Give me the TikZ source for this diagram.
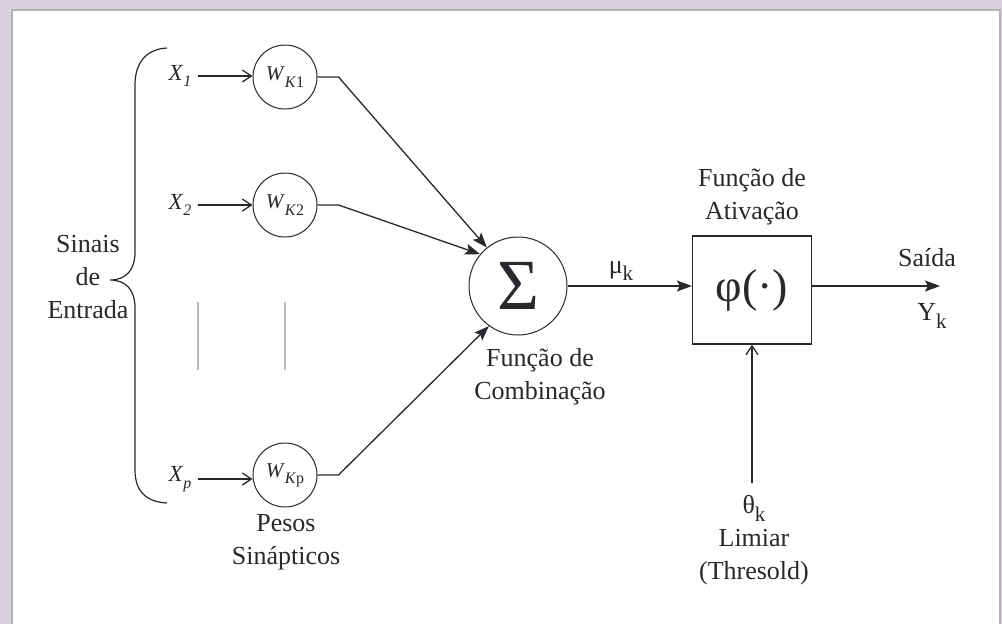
\documentclass[tikz,border=0pt]{standalone}
\usepackage{fontspec}
\setmainfont{Liberation Serif}
\usetikzlibrary{arrows.meta}
\definecolor{pagebg}{RGB}{216,210,223}
\definecolor{paneledge}{RGB}{180,180,184}
\definecolor{ink}{RGB}{40,40,45}
\newcommand{\lowsub}[1]{\raisebox{-0.3em}{\fontsize{16}{16}\selectfont #1}}
\newcommand{\biglowsub}[1]{\raisebox{-0.3em}{\fontsize{21}{21}\selectfont #1}}
\begin{document}
\begin{tikzpicture}[x=1pt,y=-1pt,
  wnode/.style={circle, draw=ink, line width=1pt, minimum size=64pt, inner sep=0pt,
    font=\fontsize{21}{21}\selectfont, text=ink},
  xlbl/.style={inner sep=2pt, font=\fontsize{23}{23}\selectfont, text=ink},
  lbl/.style={align=center, inner sep=0pt, font=\fontsize{26}{33}\selectfont, text=ink},
  conn/.style={draw=ink, line width=1.3pt},
  openhead/.style={-{Straight Barb[length=9pt,width=12pt]}},
  fillhead/.style={-{Stealth[length=15pt,width=11pt,inset=3pt]}}]
\useasboundingbox (0,0) rectangle (1002,624);
% page and white panel
\fill[pagebg] (0,0) rectangle (1002,624);
\fill[white] (12,10) rectangle (1000,626);
\draw[paneledge, line width=2pt] (12,626) -- (12,10) -- (1000,10) -- (1000,626);

% input brace
\draw[conn, line width=1.2pt] (167,48) .. controls (147,49) and (135,62) .. (135,85)
  -- (135,252) .. controls (135,270) and (126,280) .. (110,280)
  .. controls (126,280) and (135,290) .. (135,308)
  -- (135,470) .. controls (135,492) and (147,502) .. (167,503);
\node[lbl] (sinais) at (88,277) {Sinais\\de\\Entrada};

% inputs and synaptic weights
\node[xlbl] (x1) at (180,76) {\textit{X}\lowsub{\textit{1}}};
\node[xlbl] (x2) at (180,205) {\textit{X}\lowsub{\textit{2}}};
\node[xlbl] (xp) at (180,479) {\textit{X}\lowsub{\textit{p}}};
\node[wnode] (w1) at (285,77) {\textit{W}\lowsub{\textit{K}1}};
\node[wnode] (w2) at (285,205) {\textit{W}\lowsub{\textit{K}2}};
\node[wnode] (wp) at (285,475) {\textit{W}\lowsub{\textit{K}p}};
\draw[conn, openhead, shorten <=4pt] (x1.east) -- (x1.east -| w1.west);
\draw[conn, openhead, shorten <=4pt] (x2.east) -- (x2.east -| w2.west);
\draw[conn, openhead, shorten <=4pt] (xp.east) -- (xp.east -| wp.west);
\node[lbl] (pesos) at (286,542) {Pesos\\Sinápticos};

% omitted inputs
\draw[gray!55, line width=1.3pt] (198,302) -- (198,370);
\draw[gray!55, line width=1.3pt] (285,302) -- (285,370);

% summing junction
\node[circle, draw=ink, line width=1pt, minimum size=98pt, inner sep=0pt,
  font=\fontsize{72}{72}\selectfont, text=ink] (sig) at (518,286) {Σ};
\node[lbl] (comb) at (540,377) {Função de\\Combinação};
\draw[conn, fillhead] (w1.east) -- ++(21,0) -- (sig.129);
\draw[conn, fillhead] (w2.east) -- ++(21,0) -- (sig.140);
\draw[conn, fillhead] (wp.east) -- ++(21,0) -- (sig.234);

% activation function
\node[draw=ink, line width=1.3pt, minimum width=119pt, minimum height=108pt, inner sep=0pt,
  font=\fontsize{46}{46}\selectfont, text=ink] (box) at (752,290) {φ(·)};
\node[lbl] (ativ) at (752,197) {Função de\\Ativação};
\draw[conn, fillhead] (sig.east) -- (sig.east -| box.west);
\node[lbl] (mu) at (621,271) {μ\biglowsub{k}};

% output
\coordinate (out) at (940,286);
\draw[conn, fillhead] (out -| box.east) -- (out);
\node[lbl] (saida) at (927,258) {Saída};
\node[lbl] (yk) at (932,316) {Y\biglowsub{k}};

% threshold
\coordinate (thr) at (752,483);
\draw[conn, openhead] (thr) -- (box.south);
\node[lbl] (limiar) at (754,540) {θ\biglowsub{k}\\Limiar\\(Thresold)};
\end{tikzpicture}
\end{document}
